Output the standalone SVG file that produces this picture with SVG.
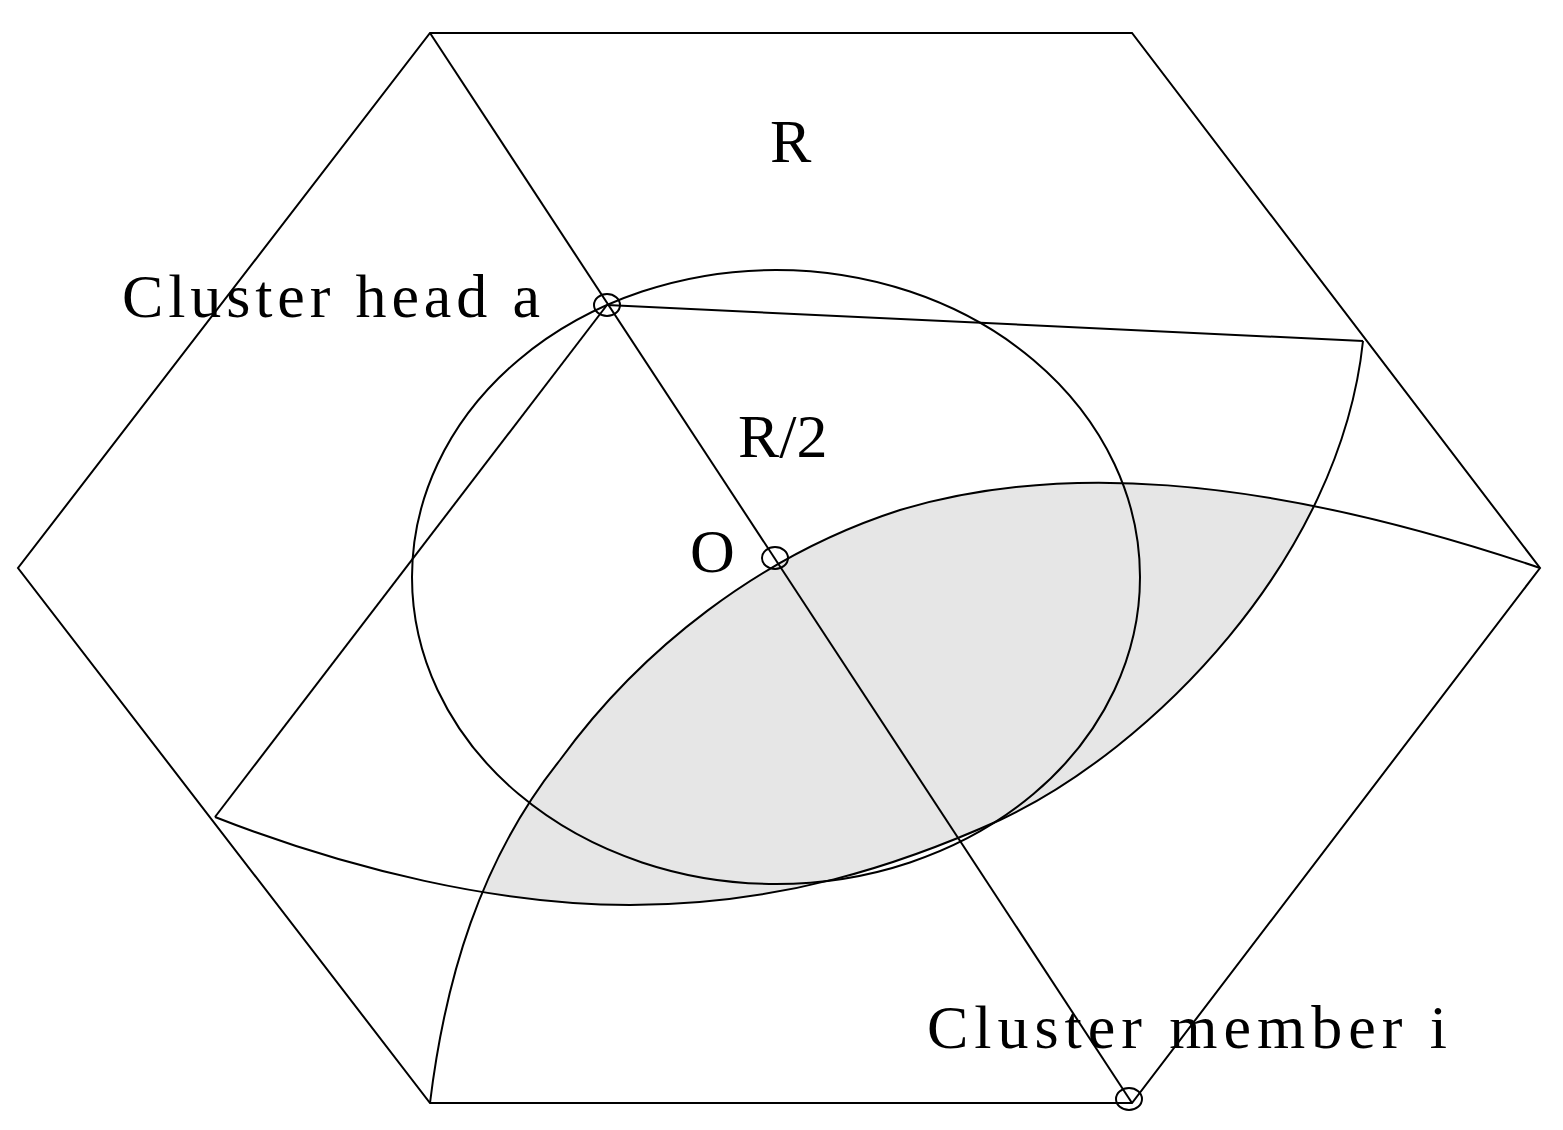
<svg xmlns="http://www.w3.org/2000/svg" width="1563" height="1130" viewBox="0 0 1563 1130">
<style>
.s{fill:none;stroke:#000;stroke-width:2}
.t{font-family:"Liberation Serif",serif;font-size:62px;fill:#000}
</style>
<defs>
<clipPath id="belowA"><path d="M430,1103 C445,980 480,860 560,760 C640,650 760,555 900,510 C1050,465 1250,470 1540,568 L1563,568 L1563,1130 L430,1130 Z"/></clipPath>
</defs>
<rect width="1563" height="1130" fill="#fff"/>
<g id="lens"><path clip-path="url(#belowA)" d="M215,817 C350,870 500,905 630,905 C780,905 900,865 1000,820 C1150,750 1340,560 1363,341 L1363,0 L0,0 L0,817 Z" fill="#e6e6e6"/></g>
<g id="connectors">
<polygon class="s" points="430,33 1132,33 1540,568 1132,1103 430,1103 18,568"/>
<line class="s" x1="430" y1="33" x2="1132" y2="1103"/>
<line class="s" x1="607" y1="305" x2="1363" y2="341"/>
<line class="s" x1="607" y1="305" x2="215" y2="817"/>
<ellipse class="s" cx="776" cy="577" rx="364" ry="307"/>
<path class="s" stroke-width="3" d="M430,1103 C445,980 480,860 560,760 C640,650 760,555 900,510 C1050,465 1250,470 1540,568"/>
<path class="s" stroke-width="3" d="M215,817 C350,870 500,905 630,905 C780,905 900,865 1000,820 C1150,750 1340,560 1363,341"/>
</g>
<g id="nodes">
<ellipse class="s" cx="607" cy="305" rx="13" ry="11"/>
<ellipse class="s" cx="775" cy="558" rx="13" ry="11"/>
<ellipse class="s" cx="1129" cy="1099" rx="13" ry="11"/>
</g>
<g id="labels">
<text class="t" x="770" y="162">R</text>
<text class="t" x="122" y="317" textLength="418" lengthAdjust="spacing">Cluster head a</text>
<text class="t" x="738" y="457">R/2</text>
<text class="t" x="690" y="572">O</text>
<text class="t" x="927" y="1048" textLength="520" lengthAdjust="spacing">Cluster member  i</text>
</g>
</svg>
